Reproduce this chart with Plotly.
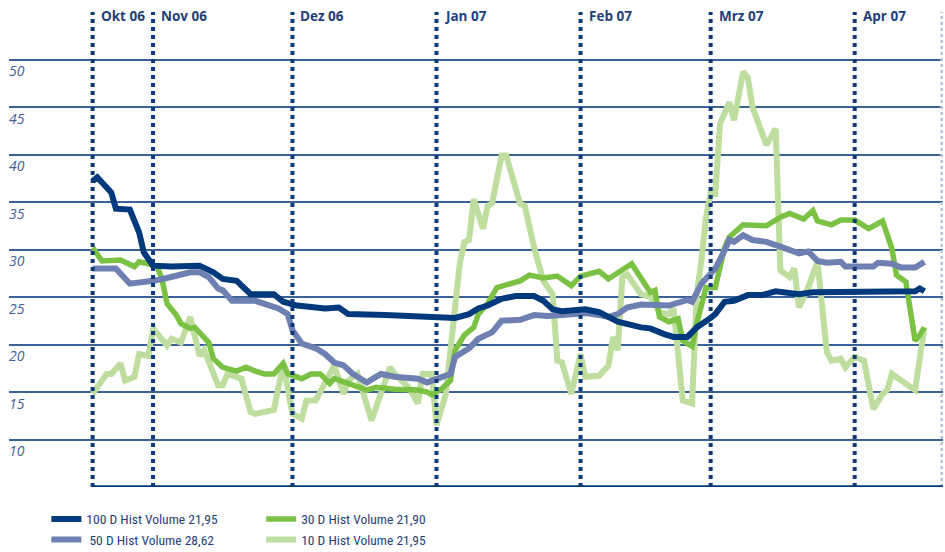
import plotly.graph_objects as go

# ---------------- data ----------------
d100 = ["2006-10-19","2006-10-20","2006-10-23","2006-10-24","2006-10-27","2006-10-29","2006-10-30","2006-11-01",
        "2006-11-05","2006-11-08","2006-11-11","2006-11-14","2006-11-16","2006-11-19","2006-11-22","2006-11-27",
        "2006-11-29","2006-12-02","2006-12-06","2006-12-08","2006-12-11","2006-12-13","2006-12-21","2006-12-29",
        "2007-01-01","2007-01-05","2007-01-08","2007-01-10","2007-01-12","2007-01-15","2007-01-18","2007-01-22",
        "2007-01-24","2007-01-26","2007-01-28","2007-02-02","2007-02-05","2007-02-09","2007-02-14","2007-02-16",
        "2007-02-19","2007-02-21","2007-02-24","2007-02-26","2007-03-01","2007-03-02","2007-03-04","2007-03-06",
        "2007-03-09","2007-03-12","2007-03-15","2007-03-20","2007-03-23","2007-04-02","2007-04-14","2007-04-15",
        "2007-04-16"]
v100 = [37.2,37.6,36.0,34.3,34.2,31.8,29.7,28.3,
        28.2,28.3,28.3,27.6,26.9,26.7,25.3,25.3,
        24.5,24.1,24.0,23.8,23.9,23.2,23.1,22.9,
        22.8,22.8,23.2,23.8,24.1,24.8,25.1,25.1,
        24.6,23.7,23.5,23.7,23.4,22.4,21.8,21.7,
        21.1,20.8,20.8,21.8,22.8,23.2,24.5,24.6,
        25.2,25.2,25.6,25.3,25.5,25.5,25.6,25.9,
        25.6]

d50 = ["2006-10-19","2006-10-24","2006-10-27","2006-10-29","2006-11-01","2006-11-04","2006-11-07","2006-11-09",
       "2006-11-11","2006-11-13","2006-11-15","2006-11-16","2006-11-18","2006-11-23","2006-11-28","2006-11-30",
       "2006-12-01","2006-12-03","2006-12-06","2006-12-08","2006-12-10","2006-12-12","2006-12-14","2006-12-17",
       "2006-12-20","2006-12-23","2006-12-28","2006-12-30","2006-12-31","2007-01-04","2007-01-05","2007-01-07",
       "2007-01-08","2007-01-10","2007-01-11","2007-01-13","2007-01-15","2007-01-19","2007-01-22","2007-01-25",
       "2007-01-28","2007-01-31","2007-02-02","2007-02-05","2007-02-07","2007-02-09","2007-02-11","2007-02-14",
       "2007-02-20","2007-02-24","2007-02-25","2007-02-27","2007-03-01","2007-03-02","2007-03-04","2007-03-05",
       "2007-03-06","2007-03-08","2007-03-10","2007-03-13","2007-03-16","2007-03-18","2007-03-20","2007-03-22",
       "2007-03-24","2007-03-26","2007-03-29","2007-03-30","2007-04-05","2007-04-06","2007-04-09","2007-04-11",
       "2007-04-14","2007-04-16"]
v50 = [28.0,28.0,26.4,26.5,26.7,27.0,27.3,27.6,
       27.6,27.1,25.9,25.7,24.6,24.6,23.8,23.2,
       21.5,20.1,19.6,19.0,18.1,17.8,16.9,16.0,
       16.9,16.6,16.4,16.0,16.2,16.9,18.7,19.4,
       19.6,20.6,20.8,21.3,22.5,22.6,23.1,23.0,
       23.1,23.2,23.3,23.1,22.9,23.2,23.9,24.2,
       24.1,24.7,24.5,26.4,27.6,28.0,29.9,31.0,
       30.8,31.5,31.0,30.8,30.3,29.9,29.6,29.8,
       28.8,28.6,28.7,28.2,28.2,28.6,28.5,28.1,
       28.1,28.7]

d30 = ["2006-10-19","2006-10-21","2006-10-25","2006-10-28","2006-10-29","2006-10-31","2006-11-02","2006-11-03",
       "2006-11-04","2006-11-06","2006-11-07","2006-11-09","2006-11-10","2006-11-12","2006-11-13","2006-11-14",
       "2006-11-16","2006-11-19","2006-11-21","2006-11-23","2006-11-25","2006-11-27","2006-11-29","2006-11-30",
       "2006-12-03","2006-12-05","2006-12-07","2006-12-09","2006-12-10","2006-12-13","2006-12-17","2006-12-19",
       "2006-12-23","2006-12-28","2006-12-30","2006-12-31","2007-01-02","2007-01-04","2007-01-05","2007-01-07",
       "2007-01-09","2007-01-10","2007-01-12","2007-01-14","2007-01-17","2007-01-19","2007-01-21","2007-01-24",
       "2007-01-27","2007-01-30","2007-02-01","2007-02-05","2007-02-07","2007-02-12","2007-02-16","2007-02-17",
       "2007-02-18","2007-02-20","2007-02-22","2007-02-23","2007-02-25","2007-02-26","2007-02-28","2007-03-02",
       "2007-03-04","2007-03-05","2007-03-08","2007-03-11","2007-03-13","2007-03-16","2007-03-18","2007-03-21",
       "2007-03-23","2007-03-24","2007-03-27","2007-03-29","2007-04-01","2007-04-04","2007-04-07","2007-04-09",
       "2007-04-10","2007-04-12","2007-04-14","2007-04-15","2007-04-16"]
v30 = [30.2,28.8,28.9,28.2,28.7,28.5,28.1,26.7,
       24.3,23.1,22.2,21.7,21.8,20.6,20.2,18.5,
       17.6,17.2,17.6,17.2,16.9,16.9,18.0,16.9,
       16.4,16.9,16.9,15.9,16.4,15.9,15.2,15.5,
       15.3,15.2,15.0,14.7,15.3,16.2,19.4,21.0,
       21.8,23.2,24.3,26.0,26.4,26.7,27.3,27.0,
       27.2,26.2,27.2,27.7,26.9,28.5,25.5,25.7,
       22.9,22.4,22.7,20.4,19.8,22.2,26.0,26.0,
       30.2,31.3,32.6,32.5,32.5,33.4,33.8,33.2,
       34.1,33.0,32.6,33.1,33.1,32.2,33.0,30.1,
       27.3,26.6,20.4,21.0,21.8]

d10 = ["2006-10-19","2006-10-22","2006-10-23","2006-10-25","2006-10-26","2006-10-28","2006-10-29","2006-10-31",
       "2006-11-01","2006-11-04","2006-11-05","2006-11-07","2006-11-09","2006-11-11","2006-11-12","2006-11-15",
       "2006-11-16","2006-11-17","2006-11-20","2006-11-22","2006-11-23","2006-11-27","2006-11-29","2006-12-01",
       "2006-12-03","2006-12-04","2006-12-06","2006-12-10","2006-12-12","2006-12-13","2006-12-15","2006-12-18",
       "2006-12-20","2006-12-22","2006-12-23","2006-12-26","2006-12-28","2006-12-29","2006-12-31","2007-01-01",
       "2007-01-03","2007-01-05","2007-01-06","2007-01-07","2007-01-08","2007-01-09","2007-01-11","2007-01-12",
       "2007-01-13","2007-01-15","2007-01-16","2007-01-19","2007-01-20","2007-01-22","2007-01-24","2007-01-26",
       "2007-01-27","2007-01-28","2007-01-30","2007-02-01","2007-02-02","2007-02-05","2007-02-07","2007-02-08",
       "2007-02-09","2007-02-10","2007-02-11","2007-02-14","2007-02-16","2007-02-18","2007-02-20","2007-02-21",
       "2007-02-23","2007-02-25","2007-02-26","2007-02-27","2007-02-28","2007-03-01","2007-03-02","2007-03-03",
       "2007-03-05","2007-03-06","2007-03-08","2007-03-09","2007-03-10","2007-03-13","2007-03-15","2007-03-16",
       "2007-03-18","2007-03-19","2007-03-20","2007-03-22","2007-03-24","2007-03-26","2007-03-27","2007-03-29",
       "2007-03-30","2007-04-01","2007-04-03","2007-04-05","2007-04-07","2007-04-08","2007-04-09","2007-04-14",
       "2007-04-16"]
v10 = [14.8,16.9,16.9,18.0,16.2,16.6,19.0,18.8,
       21.7,19.9,20.6,20.2,22.9,18.8,19.4,15.7,
       15.7,16.9,16.4,12.9,12.7,13.1,18.0,12.7,
       12.2,14.1,14.1,17.8,14.8,16.2,16.9,12.0,
       14.8,17.6,16.9,15.5,13.8,16.9,16.9,11.5,
       14.8,23.9,28.5,30.8,31.0,35.3,32.2,34.6,
       34.9,39.9,39.9,34.8,34.6,30.2,26.7,25.3,
       18.3,18.1,14.8,19.0,16.6,16.7,17.8,20.8,
       19.4,27.1,27.4,25.3,25.0,23.4,23.2,23.8,
       14.1,13.8,25.3,28.8,33.4,36.0,35.9,43.2,
       45.5,43.6,48.7,48.1,45.0,41.0,42.7,27.8,
       27.1,28.0,23.9,26.0,28.7,19.2,18.3,18.5,
       17.6,18.7,18.3,13.2,14.8,15.2,16.9,15.2,
       21.8]

for a, b in [(d100, v100), (d50, v50), (d30, v30), (d10, v10)]:
    assert len(a) == len(b), (len(a), len(b))

series_names = ["100 D Hist Volume 21,95", " 50 D Hist Volume 28,62",
                "30 D Hist Volume 21,90", "10 D Hist Volume 21,95"]
month_dates = ["2006-10-19", "2006-11-01", "2006-12-01", "2007-01-01",
               "2007-02-01", "2007-03-01", "2007-04-01"]
month_labels = ["Okt 06", "Nov 06", "Dez 06", "Jan 07", "Feb 07", "Mrz 07", "Apr 07"]
y_ticks = [10, 15, 20, 25, 30, 35, 40, 45, 50]
x_range = ["2006-10-01", "2007-04-20"]
y_range = [5, 55]

# ---------------- style ----------------
NAVY = "#003A7D"
SLATE = "#6E7FB1"
GREEN = "#7BC143"
LIGHT = "#BEDD9E"
TEXT = "#1D3F7B"
COND = "Liberation Sans Narrow, Roboto Condensed, DejaVu Sans Condensed, Arial Narrow, sans-serif"

fig = go.Figure()
# drawing order: light green, green, slate, navy (top)
fig.add_trace(go.Scatter(x=d10, y=v10, mode="lines", name=series_names[3],
                         line=dict(color=LIGHT, width=6), legend="legend2", legendrank=2))
fig.add_trace(go.Scatter(x=d30, y=v30, mode="lines", name=series_names[2],
                         line=dict(color=GREEN, width=5.5), legend="legend2", legendrank=1))
fig.add_trace(go.Scatter(x=d50, y=v50, mode="lines", name=series_names[1],
                         line=dict(color=SLATE, width=6), legend="legend", legendrank=2))
fig.add_trace(go.Scatter(x=d100, y=v100, mode="lines", name=series_names[0],
                         line=dict(color=NAVY, width=6), legend="legend", legendrank=1))

shapes = []
for d in month_dates:
    shapes.append(dict(type="line", xref="x", yref="paper", x0=d, x1=d, y0=0, y1=1,
                       line=dict(color="#0B3A78", width=4, dash="dot"), layer="above"))
# faint dotted line at right edge
shapes.append(dict(type="line", xref="x", yref="paper", x0="2007-04-19T18:00", x1="2007-04-19T18:00",
                   y0=0, y1=1, line=dict(color="#B4C6DE", width=3, dash="dot"), layer="above"))
# bottom axis line
shapes.append(dict(type="line", xref="x", yref="y", x0=month_dates[0], x1=x_range[1], y0=y_range[0], y1=y_range[0],
                   line=dict(color=NAVY, width=3.5), layer="above"))

annotations = []
for d, lab in zip(month_dates, month_labels):
    annotations.append(dict(x=d, y=1, xref="x", yref="paper", text=lab, showarrow=False,
                            xanchor="left", yanchor="middle", xshift=6, yshift=-4,
                            font=dict(family="Open Sans, Liberation Sans, sans-serif", size=13.5,
                                      color=TEXT, weight="bold")))

legend_common = dict(xanchor="left", yanchor="top", bgcolor="rgba(0,0,0,0)",
                     orientation="v", font=dict(family=COND, size=13.5, color=TEXT),
                     itemclick=False, itemdoubleclick=False, tracegroupgap=0, itemwidth=30)

fig.update_layout(
    width=945, height=552,
    margin=dict(l=9, r=2, t=12, b=65, autoexpand=False),
    paper_bgcolor="white", plot_bgcolor="white",
    showlegend=True,
    xaxis=dict(type="date", range=x_range, showgrid=False, showticklabels=False,
               zeroline=False, showline=False, ticks="", automargin=False),
    yaxis=dict(range=y_range, tickvals=y_ticks, showgrid=True, gridcolor="#3B6296", gridwidth=1.6,
               zeroline=False, showline=False, ticks="", automargin=False,
               ticklabelposition="inside", ticklabelshift=12, ticklabelstandoff=-3,
               tickfont=dict(family="Open Sans, Liberation Sans, sans-serif", size=14,
                             color="#3F6198", style="italic")),
    legend=dict(x=0.04, y=-0.035, **legend_common),
    legend2=dict(x=0.27, y=-0.035, **legend_common),
    shapes=shapes,
    annotations=annotations,
)

fig.write_html("out.html", config={"displayModeBar": False},
               post_script="document.body.style.margin='0px';document.body.style.overflow='hidden';")
